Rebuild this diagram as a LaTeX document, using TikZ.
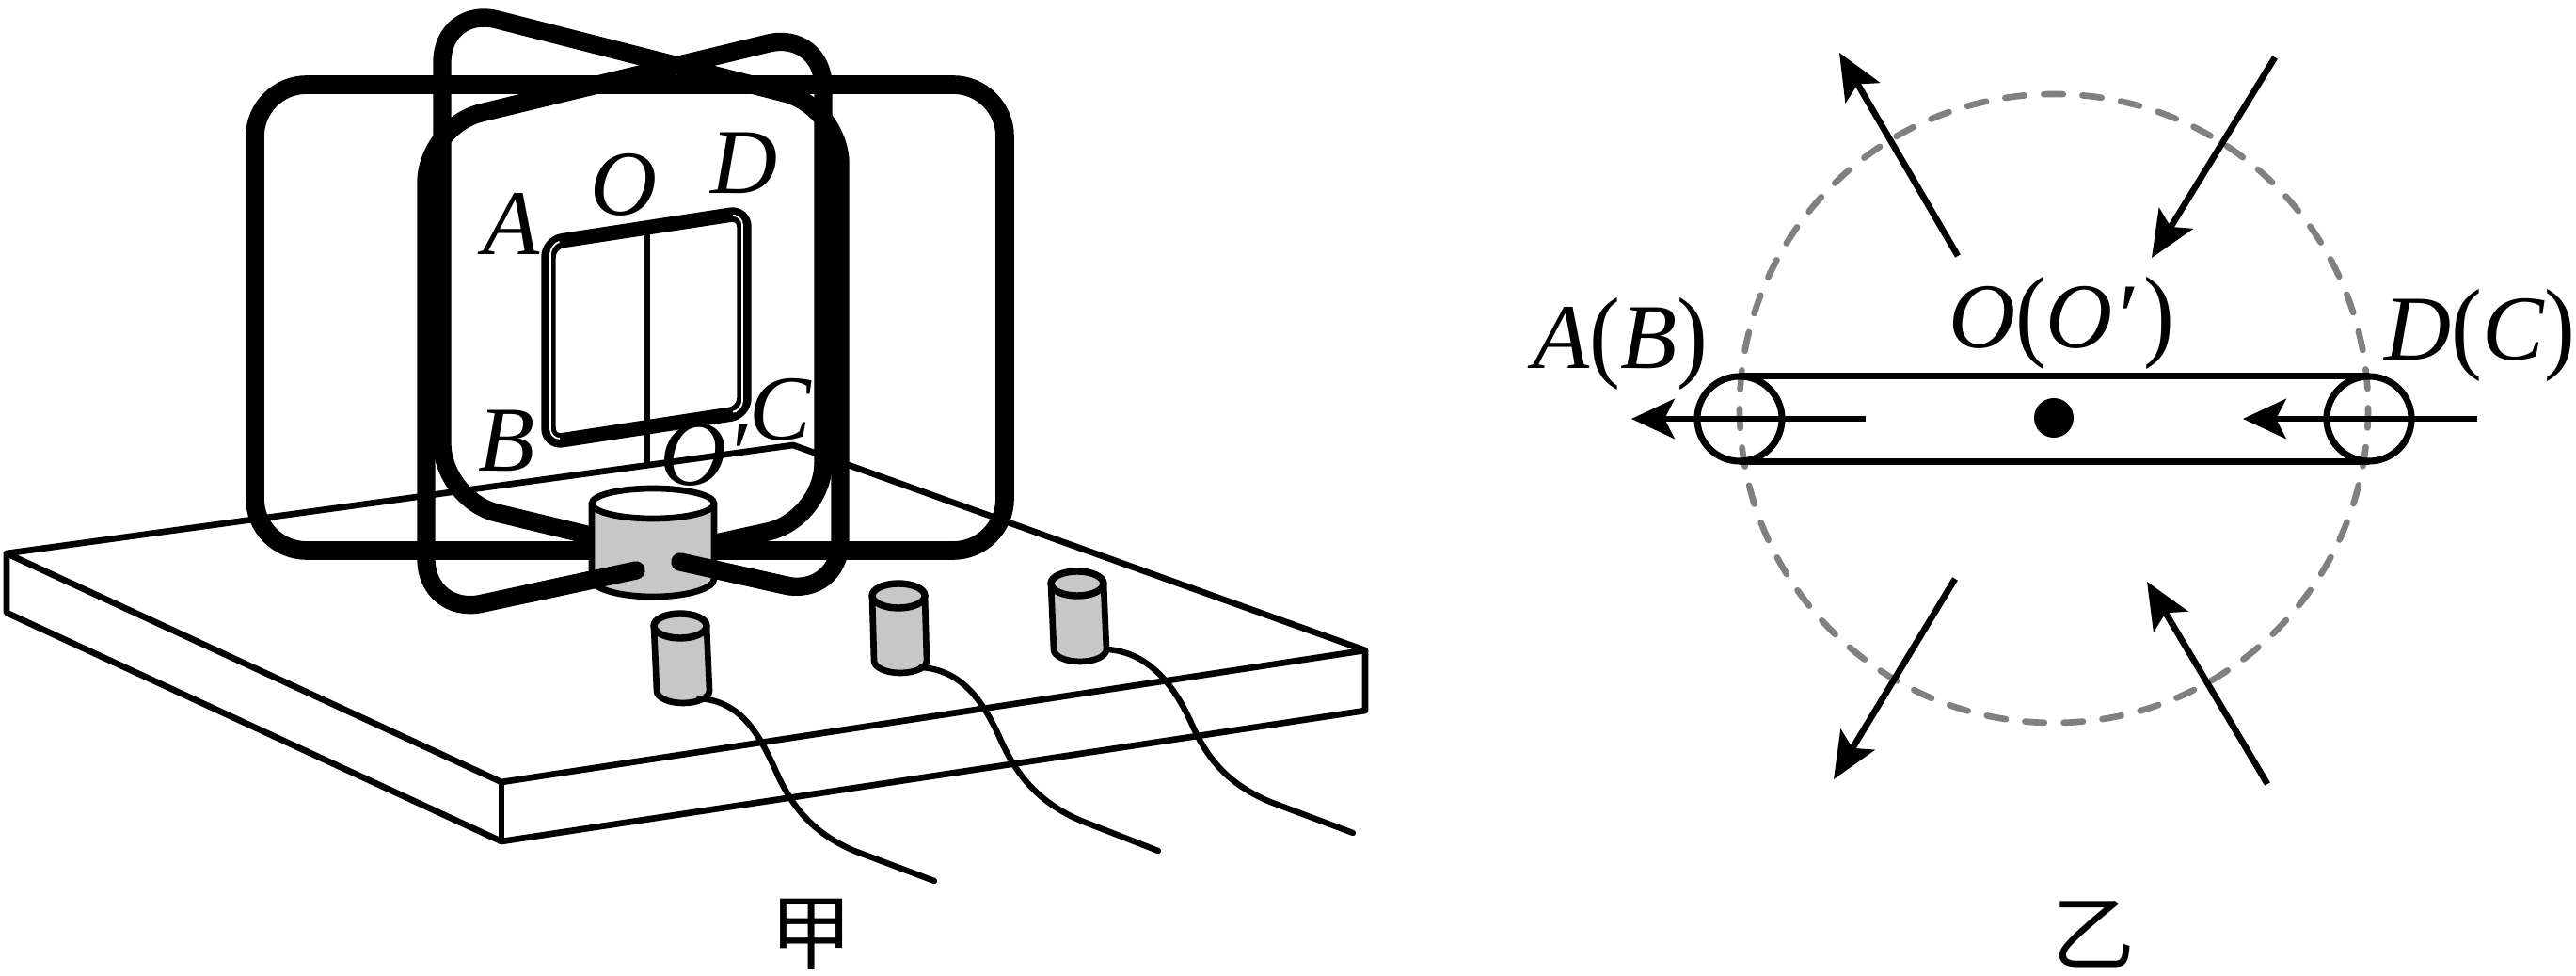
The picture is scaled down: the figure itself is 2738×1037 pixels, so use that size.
\documentclass[tikz,border=0pt]{standalone}
\usepackage{fontspec}
\usepackage{graphicx}
\setmainfont{Liberation Serif}
\newfontfamily\cjkfont{Noto Sans CJK SC}
\usetikzlibrary{arrows.meta}

\newcommand{\tallp}[1]{\scalebox{1}[1.1]{\upshape #1}}

\tikzset{
    plateline/.style={line width=1.9pt, line join=round},
    coilline/.style={line width=5.5pt, rounded corners=0.6cm},
    stubline/.style={line width=5.5pt, line cap=round},
    wireline/.style={line width=1.8pt, line cap=round},
    cylline/.style={line width=1.9pt, fill=black!22},
    letter/.style={inner sep=0pt, anchor=base, font=\fontsize{28}{30}\selectfont\itshape},
    hanzi/.style={inner sep=0pt, font=\fontsize{25}{27}\cjkfont},
    fieldarrow/.style={line width=1.9pt, -{Stealth[length=14pt, width=12pt, inset=3pt]}},
    flowarrow/.style={line width=1.8pt, -{Stealth[length=13pt, width=12pt, inset=3pt]}},
    ring/.style={circle, draw, line width=2pt, minimum size=0.9cm, inner sep=0pt, outer sep=0pt}
}

\begin{document}
\begin{tikzpicture}[x=0.01cm, y=-0.01cm]
    \useasboundingbox (0,0) rectangle (2738,1037);

    \coordinate (p1) at (7,588);
    \coordinate (p2) at (843,473);
    \coordinate (p3) at (1451,691);
    \coordinate (p4) at (533,831);
    \coordinate (p5) at (7,651);
    \coordinate (p6) at (533,894);
    \coordinate (p7) at (1451,755);
    \draw[plateline] (p1) -- (p2) -- (p3) -- (p4) -- cycle;
    \draw[plateline] (p1) -- (p5) -- (p6) -- (p7) -- (p3);
    \draw[plateline] (p4) -- (p6);

    \draw[line width=5.6pt, rounded corners=0.55cm] (271,90) rectangle (1068,585);

    \coordinate (a0) at (723,597);
    \coordinate (a1) at (893,635);
    \coordinate (a2) at (893,114);
    \coordinate (a3) at (470,6);
    \coordinate (a4) at (470,531);
    \coordinate (a5) at (640,572);
    \draw[coilline] (a0) -- (a1) -- (a2) -- (a3) -- (a4) -- (a5);

    \coordinate (b0) at (676,606);
    \coordinate (b1) at (453,654);
    \coordinate (b2) at (453,134);
    \coordinate (b3) at (875,32);
    \coordinate (b4) at (875,552);
    \coordinate (b5) at (761,577);
    \draw[coilline] (b0) -- (b1) -- (b2) -- (b3) -- (b4) -- (b5);

    \draw[cylline] (629,535) -- (629,615) arc[start angle=180, end angle=0, x radius=65, y radius=19] -- (759,535);
    \draw[line width=1.9pt, fill=white] (694,535) ellipse[x radius=65, y radius=16];
    \draw[stubline] (b0) -- (560,631);
    \draw[stubline] (a0) -- (840,623);

    \foreach \tx/\ty/\bx/\by in {723/665/726/734, 955/633/957/702, 1145/620/1148/690} {
        \draw[cylline] (\tx-28,\ty) -- (\bx-28,\by) arc[start angle=180, end angle=0, x radius=28, y radius=13] -- (\tx+28,\ty);
        \draw[line width=2.1pt, fill=black!22] (\tx,\ty) ellipse[x radius=28, y radius=13];
    }

    \draw[wireline] (743,742) .. controls +(42,3) and +(-20,-45) .. (825,820) .. controls +(18,40) and +(-42,-18) .. (908,904) -- (993,936);
    \draw[wireline] (979,709) .. controls +(42,3) and +(-20,-45) .. (1064,787) .. controls +(18,40) and +(-42,-18) .. (1149,872) -- (1231,904);
    \draw[wireline] (1177,690) .. controls +(42,3) and +(-20,-45) .. (1267,770) .. controls +(18,40) and +(-42,-18) .. (1350,852) -- (1438,885);

    \coordinate (c1) at (583,258);
    \coordinate (c2) at (791,226);
    \coordinate (c3) at (791,438);
    \coordinate (c4) at (583,470);
    \draw[line width=4.4pt, rounded corners=0.15cm] (c1) -- (c2) -- (c3) -- (c4) -- cycle;
    \draw[white, line width=0.5pt, rounded corners=0.1cm] (594,257) -- (585,260) -- (585,466) -- (594,466);
    \draw[white, line width=0.5pt, rounded corners=0.1cm] (782,229) -- (789,229) -- (789,436) -- (783,437);
    \coordinate (q1) at (688,242);
    \coordinate (q2) at (688,492);
    \draw[line width=1.6pt] (q1) -- (q2);

    \node[letter] (lA) at (544,271) {A};
    \node[letter] (lO) at (663,229) {O};
    \node[letter] (lD) at (791,206) {D};
    \node[letter] (lB) at (539,501) {B};
    \node[letter] (lP) at (748,516) {O′};
    \node[letter] (lC) at (829,468) {C};
    \node[hanzi] (jia) at (862,993) {甲};

    \draw[black!50, line width=1.9pt, line cap=round, dash pattern=on 5.8pt off 5.9pt] (2183,434) circle[radius=334];

    \coordinate (s1) at (2081,272);
    \coordinate (t1) at (1955,56);
    \coordinate (s2) at (2418,61);
    \coordinate (t2) at (2287,274);
    \coordinate (s3) at (2078,615);
    \coordinate (t3) at (1949,828);
    \coordinate (s4) at (2410,833);
    \coordinate (t4) at (2282,618);
    \draw[fieldarrow] (s1) -- (t1);
    \draw[fieldarrow] (s2) -- (t2);
    \draw[fieldarrow] (s3) -- (t3);
    \draw[fieldarrow] (s4) -- (t4);

    \node[ring] (ringL) at (1849,445) {};
    \node[ring] (ringR) at (2518,445) {};
    \draw[line width=2pt] (ringL.north) -- (ringR.north);
    \draw[line width=2pt] (ringL.south) -- (ringR.south);
    \node[circle, fill=black, minimum size=0.42cm, inner sep=0pt] (axis) at (2183,444) {};
    \coordinate (f1) at (1983,445);
    \coordinate (g1) at (1734,445);
    \coordinate (f2) at (2633,445);
    \coordinate (g2) at (2384,445);
    \draw[flowarrow] (f1) -- (g1);
    \draw[flowarrow] (f2) -- (g2);

    \node[letter] (lAB) at (1722,392) {A\tallp{(}B\tallp{)}};
    \node[letter] (lOO) at (2191,370) {O\tallp{(}O′\kern3pt\tallp{)}};
    \node[letter] (lDC) at (2636,383) {D\tallp{(}C\tallp{)}};
    \node[hanzi] (yi) at (2225,993) {乙};
\end{tikzpicture}
\end{document}
